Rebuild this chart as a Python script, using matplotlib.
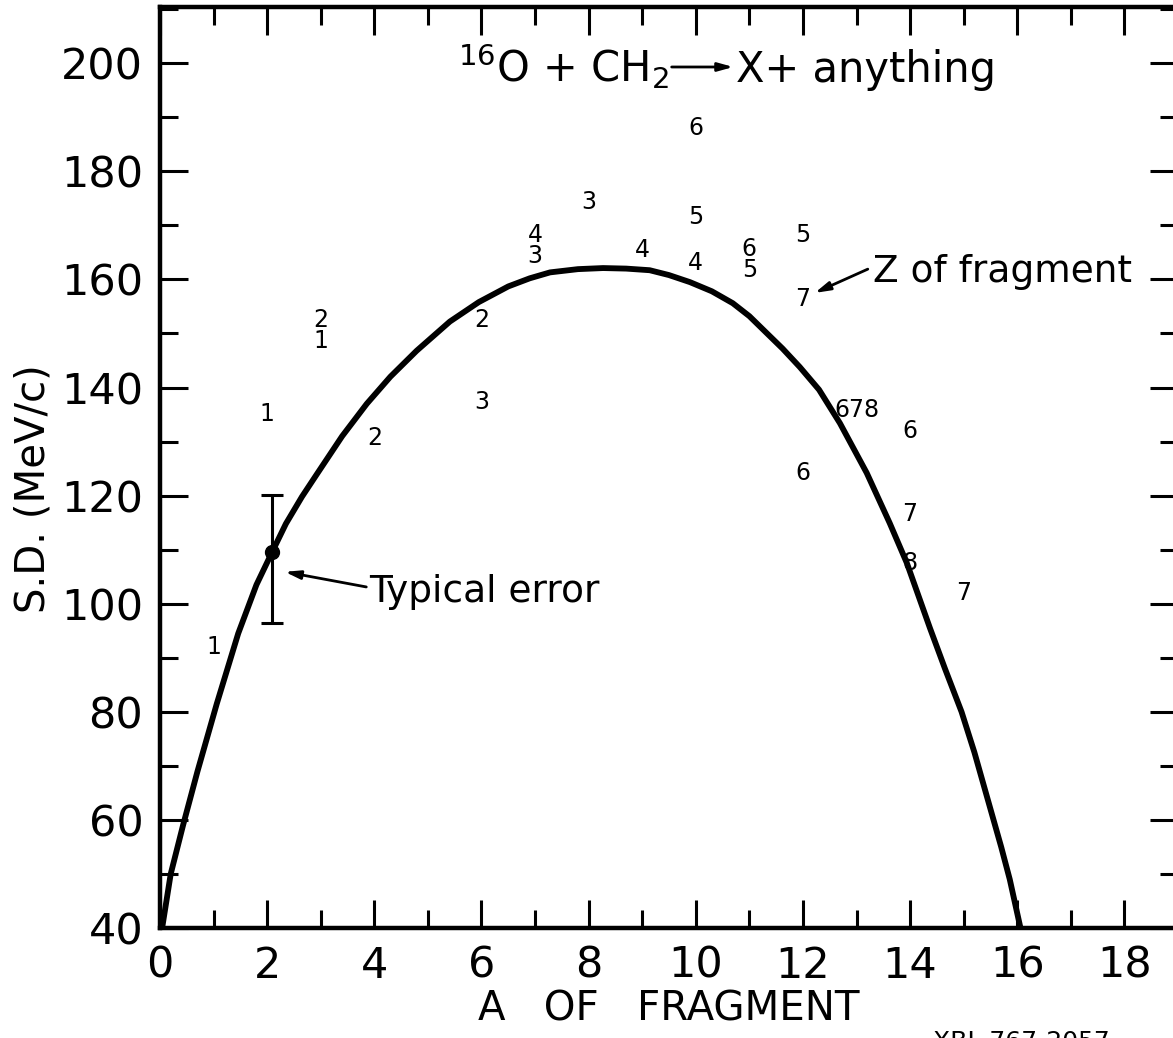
import matplotlib
matplotlib.use("Agg")
import matplotlib.pyplot as plt
from matplotlib.ticker import MultipleLocator

plt.rcParams['font.family'] = ['DejaVu Sans']

# measured fragments: mass number A, momentum width S.D. (MeV/c), charge Z written at the point
frag_a = [10, 8, 10, 7, 7, 9, 10, 11, 11, 12, 12, 3, 3, 6, 6, 2, 4, 13, 14, 12, 14, 14, 15, 1]
frag_sd = [188.0, 174.4, 171.6, 168.2, 164.3, 165.4, 163.0, 165.7, 161.8, 168.3, 156.3,
           152.5, 148.6, 152.5, 137.3, 135.1, 130.6, 135.8, 131.9, 124.2, 116.6, 107.5, 102.0, 92.0]
frag_z = ["6", "3", "5", "4", "3", "4", "4", "6", "5", "5", "7",
          "2", "1", "2", "3", "1", "2", "678", "6", "6", "7", "8", "7", "1"]

# fitted curve
curve_a = [0.04, 0.2, 0.43, 0.7, 1.06, 1.46, 1.8, 2.09, 2.35, 2.65, 2.93, 3.4, 3.86, 4.3,
           4.79, 5.41, 5.95, 6.5, 6.9, 7.28, 7.8, 8.27, 8.7, 9.14, 9.5, 9.89, 10.3, 10.69,
           11.0, 11.32, 11.62, 11.94, 12.3, 12.69, 13.19, 13.62, 13.94, 14.37, 14.65, 14.96,
           15.2, 15.5, 15.7, 15.86, 16.06]
curve_sd = [40, 50, 59, 69, 81.5, 94.5, 103.5, 109.5, 114.8, 119.8, 124, 131, 137, 142,
            146.8, 152.2, 155.8, 158.7, 160.2, 161.3, 161.9, 162.1, 162.0, 161.7, 160.8, 159.5,
            157.8, 155.6, 153.2, 150.1, 147.2, 143.8, 139.6, 133.4, 124.2, 114.9, 107.5, 95.5,
            88, 80, 72.5, 62, 55, 49, 40]

# typical error bar
err_a = 2.09
err_sd = 109.5
err_lo = 96.4
err_hi = 120.1

fig = plt.figure(figsize=(11.73, 10.38), dpi=100)
ax = fig.add_axes([160 / 1173, 110 / 1038, 1018 / 1173, 921 / 1038])
ax.set_xlim(0, 19)
ax.set_ylim(40, 210.4)

ax.plot(curve_a, curve_sd, color='black', lw=4.2, solid_joinstyle='round')

for a, s, z in zip(frag_a, frag_sd, frag_z):
    ax.text(a, s, z, fontsize=17, ha='center', va='center')

ax.errorbar([err_a], [err_sd], yerr=[[err_sd - err_lo], [err_hi - err_sd]], fmt='o',
            color='black', markersize=10, elinewidth=2.2, capsize=8, capthick=2.2)

arrow = dict(arrowstyle='-|>,head_length=0.9,head_width=0.25', color='black', lw=2,
             shrinkA=0, shrinkB=0)
ax.annotate("", xy=(2.33, 105.9), xytext=(3.85, 103.1), arrowprops=arrow)
ax.text(3.9, 100.3, "Typical error", fontsize=27, ha='left', va='baseline')

ax.annotate("", xy=(12.22, 157.5), xytext=(13.21, 161.9), arrowprops=arrow)
ax.text(13.3, 159.5, "Z of fragment", fontsize=27, ha='left', va='baseline')

# reaction
ax.text(9.5, 196.5, r"$^{16}$O + CH$_2$", fontsize=30, ha='right', va='baseline')
ax.annotate("", xy=(10.7, 199.3), xytext=(9.55, 199.3), arrowprops=arrow)
ax.text(15.6, 196.5, "X+ anything", fontsize=30, ha='right', va='baseline')

ax.xaxis.set_major_locator(MultipleLocator(2))
ax.xaxis.set_minor_locator(MultipleLocator(1))
ax.yaxis.set_major_locator(MultipleLocator(20))
ax.yaxis.set_minor_locator(MultipleLocator(10))
ax.tick_params(which='both', direction='in', top=True, right=True, width=2.2)
ax.tick_params(which='major', length=20, labelsize=31, pad=12)
ax.tick_params(which='minor', length=13)
for sp in ax.spines.values():
    sp.set_linewidth(3.2)

ax.set_xlabel("A   OF   FRAGMENT", fontsize=29)
ax.xaxis.set_label_coords(0.5, -0.067)
ax.set_ylabel("S.D. (MeV/c)", fontsize=29)
ax.yaxis.set_label_coords(-0.105, 0.477)

fig.text(1110 / 1173, 8 / 1038, "XBL 767-2057", fontsize=18, ha='right', va='top')

fig.savefig("out.png", dpi=100)
